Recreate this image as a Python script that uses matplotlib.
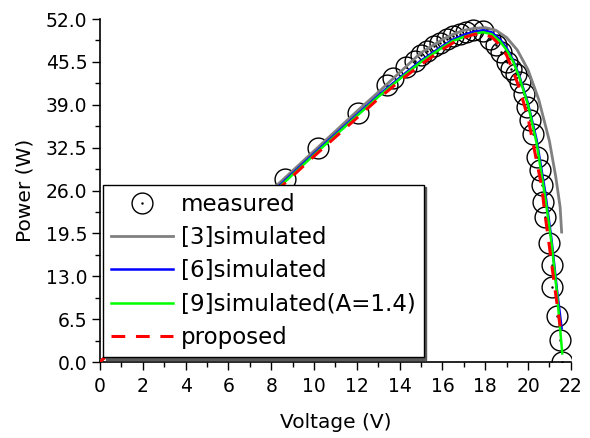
import matplotlib
matplotlib.use("Agg")
import matplotlib.pyplot as plt
from matplotlib.ticker import MultipleLocator, FormatStrFormatter
from matplotlib.legend_handler import HandlerTuple

plt.rcParams['font.family'] = ['DejaVu Sans']

# Measured data
meas_v = [8.64, 10.2, 12.05, 13.4, 13.7, 14.3, 14.7, 15.0, 15.3, 15.6, 15.9, 16.2,
          16.5, 16.8, 17.1, 17.45, 17.9, 18.2, 18.5, 18.75, 19.0, 19.2, 19.45, 19.63,
          19.8, 19.94, 20.09, 20.25, 20.4, 20.56, 20.64, 20.72, 20.79, 21.0, 21.1,
          21.12, 21.34, 21.5, 21.57]
meas_p = [27.8, 32.4, 37.8, 42.0, 43.1, 44.8, 45.6, 46.6, 47.2, 47.9, 48.4, 49.0,
          49.5, 49.8, 50.1, 50.4, 50.2, 49.0, 48.0, 47.0, 45.5, 44.5, 43.7, 42.5,
          40.6, 38.7, 36.7, 34.6, 31.1, 29.1, 26.8, 24.3, 22.0, 18.1, 14.7,
          11.4, 6.9, 3.3, 0.0]

# [3] simulated
s3_v = [0, 2, 4, 6, 8, 10, 12, 13, 14, 15, 16, 16.5, 17, 17.5, 18, 18.5, 19, 19.5,
        20, 20.5, 21, 21.3, 21.5, 21.57]
s3_p = [0, 6.6, 13.2, 19.6, 26.0, 32.0, 38.0, 40.9, 43.9, 46.9, 48.9, 49.7, 50.3,
        50.6, 50.7, 50.3, 49.2, 47.3, 44.3, 39.8, 33.5, 28.0, 23.5, 19.7]

# [6] simulated
s6_v = [0, 2, 4, 6, 8, 10, 12, 13, 14, 15, 16, 16.5, 17, 17.5, 17.9, 18.3, 18.7,
        19, 19.3, 19.6, 20, 20.4, 20.8, 21.1, 21.35, 21.57]
s6_p = [0, 6.5, 13.0, 19.3, 25.6, 31.6, 37.5, 40.4, 43.1, 45.7, 47.9, 48.9, 49.6,
        50.1, 50.3, 50.0, 48.9, 47.6, 45.8, 43.3, 39.2, 33.7, 25.8, 18.5, 11.0, 5.1]

# [9] simulated (A=1.4)
s9_v = [0, 2, 4, 6, 8, 10, 12, 13, 14, 15, 16, 16.5, 17, 17.5, 17.9, 18.3, 18.7,
        19, 19.3, 19.6, 20, 20.4, 20.8, 21.1, 21.35, 21.5, 21.6]
s9_p = [0, 6.4, 12.9, 19.2, 25.4, 31.4, 37.3, 40.2, 42.9, 45.5, 47.7, 48.7, 49.3,
        49.8, 50.0, 49.7, 48.6, 47.3, 45.6, 43.1, 39.0, 33.2, 25.0, 18.0, 10.5, 5.0, 1.3]

# proposed
pr_v = [0, 2, 4, 6, 8, 10, 12, 13, 14, 15, 16, 16.5, 17, 17.5, 17.8, 18.3, 18.7,
        19, 19.23, 19.6, 20, 20.4, 20.64, 20.79, 21.0, 21.2, 21.5]
pr_p = [0, 6.3, 12.7, 19.0, 25.2, 31.2, 37.0, 39.9, 42.6, 45.1, 47.4, 48.4, 49.2,
        49.7, 49.8, 49.3, 48.0, 46.5, 44.7, 41.5, 37.0, 30.5, 26.6, 22.5, 17.5, 12.5, 5.4]

fig = plt.figure(figsize=(5.9, 4.38), dpi=100)
ax = fig.add_axes([0.1695, 0.1735, 0.798, 0.783])

h_m, = ax.plot(meas_v, meas_p, 'o', ms=15, mfc='none', mec='black', mew=1.0, zorder=2)
h_md, = ax.plot(meas_v, meas_p, '.', ms=1.5, color='black', zorder=2)
h3, = ax.plot(s3_v, s3_p, color='#808080', lw=2.0, zorder=3)
h6, = ax.plot(s6_v, s6_p, color='#0000ff', lw=1.8, zorder=3)
h9, = ax.plot(s9_v, s9_p, color='#00ff00', lw=1.8, zorder=4)
hp, = ax.plot(pr_v, pr_p, color='#ff0000', lw=2.2, ls=(0, (4.5, 3.5)), zorder=5)

ax.set_xlim(0, 22)
ax.set_ylim(0, 52)
ax.xaxis.set_major_locator(MultipleLocator(2))
ax.xaxis.set_minor_locator(MultipleLocator(1))
ax.yaxis.set_major_locator(MultipleLocator(6.5))
ax.yaxis.set_minor_locator(MultipleLocator(3.25))
ax.yaxis.set_major_formatter(FormatStrFormatter('%.1f'))
ax.tick_params(which='major', direction='out', length=6, width=1, labelsize=13.5, pad=3)
ax.tick_params(axis='x', which='major', pad=5)
ax.tick_params(which='minor', direction='out', length=3.5, width=1)
for s in ['top', 'right']:
    ax.spines[s].set_visible(False)
for s in ['left', 'bottom']:
    ax.spines[s].set_linewidth(1.2)

ax.set_xlabel('Voltage (V)', fontsize=14.5, labelpad=12)
ax.set_ylabel('Power (W)', fontsize=14.5, labelpad=8)

leg = ax.legend([(h_m, h_md), h3, h6, h9, hp],
                ['measured', '[3]simulated', '[6]simulated', '[9]simulated(A=1.4)', 'proposed'],
                handler_map={tuple: HandlerTuple(ndivide=1, pad=0)},
                loc='lower left', bbox_to_anchor=(0.006, 0.015), borderaxespad=0,
                fontsize=16.5, frameon=True, fancybox=False,
                shadow={'color': '0.35', 'alpha': 1},
                edgecolor='black', framealpha=1, handlelength=2.7,
                labelspacing=0.45, borderpad=0.35, handletextpad=0.35)
leg.get_frame().set_linewidth(1.0)
leg.set_zorder(10)

fig.savefig('out.png', dpi=100)
